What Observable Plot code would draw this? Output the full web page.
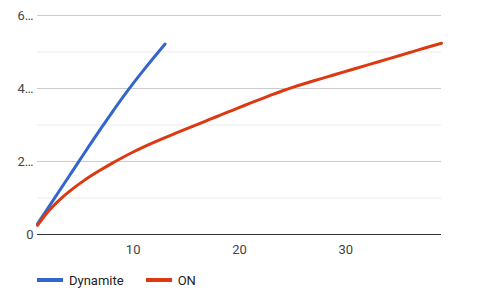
<!DOCTYPE html>
<html>
<head>
<meta charset="utf-8">
<script src="https://cdn.jsdelivr.net/npm/d3@7"></script>
<script src="https://cdn.jsdelivr.net/npm/@observablehq/plot@0.6"></script>
<style>
  html, body { margin: 0; padding: 0; background: #fff; }
  body { width: 480px; height: 299px; overflow: hidden; font-family: Roboto, sans-serif; }
  #legend { display: flex; align-items: center; height: 20px; margin-top: 8px; padding-left: 37px; font-size: 13px; color: #222; }
  .item { display: flex; align-items: center; }
  .sw { width: 26px; height: 4px; margin-right: 6px; }
</style>
</head>
<body>
<div id="chart"></div>
<div id="legend"></div>
<script>
const seriesNames = ["Dynamite", "ON"];
const seriesColors = ["#3366cc", "#dc3912"];

const dynamiteX = [1, 2, 3, 4, 5, 6, 7, 8, 9, 10, 11, 12, 13];
const dynamiteY = [0.29, 0.73, 1.17, 1.61, 2.05, 2.49, 2.92, 3.34, 3.75, 4.14, 4.51, 4.87, 5.22];

const onX = [1, 2, 3, 4, 5, 6, 7, 8, 9, 10, 11, 12, 13, 14, 15, 16, 17, 18, 19, 20,
             21, 22, 23, 24, 25, 26, 27, 28, 29, 30, 31, 32, 33, 34, 35, 36, 37, 38, 39];
const onY = [0.25, 0.63, 0.93, 1.18, 1.40, 1.60, 1.78, 1.95, 2.11, 2.26, 2.40, 2.53, 2.655, 2.775,
             2.895, 3.013, 3.13, 3.247, 3.364, 3.48, 3.597, 3.71, 3.823, 3.931, 4.031, 4.123, 4.211,
             4.297, 4.383, 4.469, 4.555, 4.641, 4.727, 4.813, 4.899, 4.985, 5.071, 5.157, 5.24];

const xTicks = [10, 20, 30];
const yMajor = [0, 2, 4, 6];
const yMinor = [1, 3, 5];
const yMajorGrid = [2, 4, 6];

const data = [
  ...dynamiteX.map((x, i) => ({series: seriesNames[0], x, y: dynamiteY[i]})),
  ...onX.map((x, i) => ({series: seriesNames[1], x, y: onY[i]}))
];

const chart = Plot.plot({
  width: 480,
  height: 262,
  marginLeft: 37,
  marginRight: 39,
  marginTop: 15,
  marginBottom: 28,
  style: {fontFamily: "Roboto, sans-serif", fontSize: "13px", color: "#444", background: "#fff"},
  x: {domain: [1, 39], ticks: xTicks, tickSize: 0, tickPadding: 10, label: null},
  y: {domain: [0, 6], ticks: yMajor, tickSize: 0, tickPadding: 4, label: null,
      tickFormat: d => d === 0 ? "0" : `${d}…`},
  color: {domain: seriesNames, range: seriesColors},
  marks: [
    Plot.ruleY(yMinor, {stroke: "#ebebeb", strokeWidth: 1}),
    Plot.ruleY(yMajorGrid, {stroke: "#cccccc", strokeWidth: 1}),
    Plot.line(data, {x: "x", y: "y", z: "series", stroke: "series", strokeWidth: 3, curve: "natural"}),
    Plot.ruleY([0], {stroke: "#333", strokeWidth: 1})
  ]
});
document.getElementById("chart").appendChild(chart);

const legend = document.getElementById("legend");
seriesNames.forEach((name, i) => {
  const item = document.createElement("div");
  item.className = "item";
  item.style.marginRight = i === 0 ? "22px" : "0";
  const sw = document.createElement("div");
  sw.className = "sw";
  sw.style.background = seriesColors[i];
  const t = document.createElement("span");
  t.textContent = name;
  item.appendChild(sw);
  item.appendChild(t);
  legend.appendChild(item);
});
</script>
</body>
</html>
